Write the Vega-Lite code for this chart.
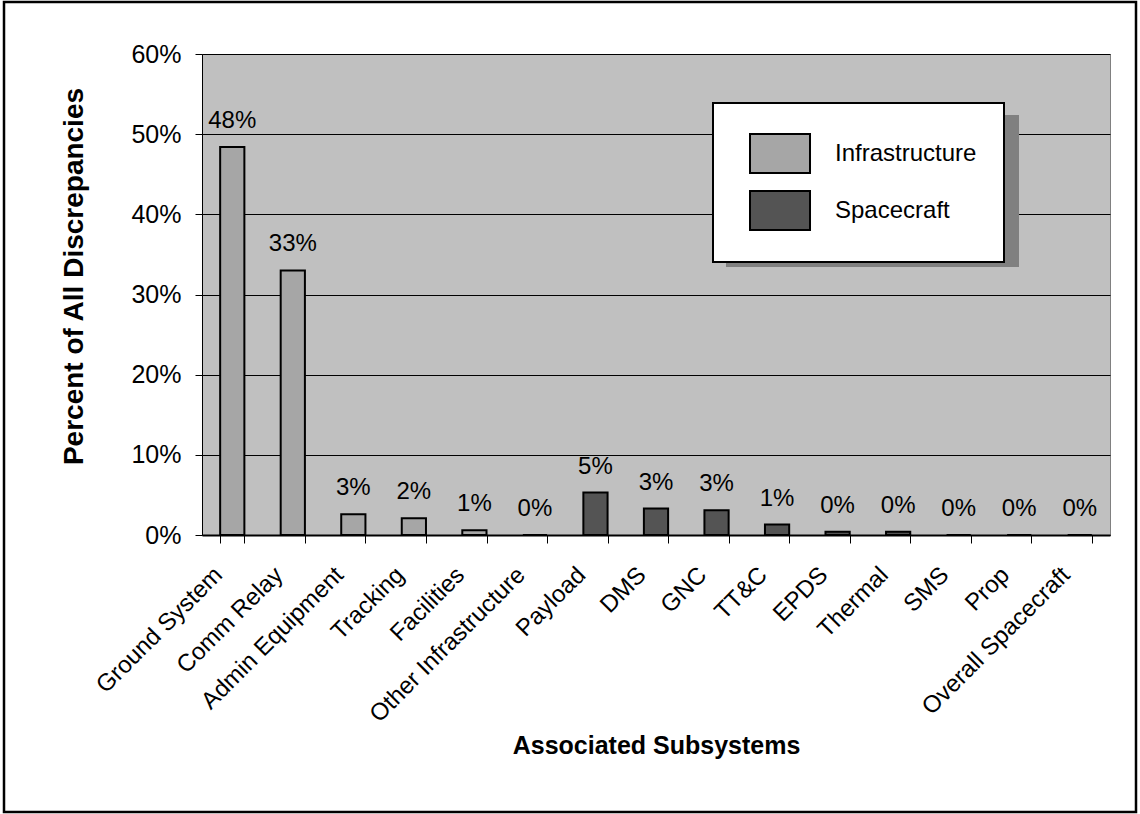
{
  "$schema": "https://vega.github.io/schema/vega-lite/v6.json",
  "width": 908,
  "height": 481,
  "autosize": {"type": "none"},
  "padding": {"left": 202, "top": 54, "right": 30, "bottom": 279},
  "background": "white",
  "config": {
    "font": "Liberation Sans",
    "view": {"fill": "#C0C0C0", "stroke": "#808080", "strokeWidth": 1},
    "legend": {"strokeWidth": 2}
  },
  "data": {
    "values": [
      {"Subsystem": "Ground System", "Group": "Infrastructure", "Percent": 0.484},
      {"Subsystem": "Comm Relay", "Group": "Infrastructure", "Percent": 0.330},
      {"Subsystem": "Admin Equipment", "Group": "Infrastructure", "Percent": 0.026},
      {"Subsystem": "Tracking", "Group": "Infrastructure", "Percent": 0.021},
      {"Subsystem": "Facilities", "Group": "Infrastructure", "Percent": 0.006},
      {"Subsystem": "Other Infrastructure", "Group": "Infrastructure", "Percent": 0.0},
      {"Subsystem": "Payload", "Group": "Spacecraft", "Percent": 0.053},
      {"Subsystem": "DMS", "Group": "Spacecraft", "Percent": 0.033},
      {"Subsystem": "GNC", "Group": "Spacecraft", "Percent": 0.031},
      {"Subsystem": "TT&C", "Group": "Spacecraft", "Percent": 0.013},
      {"Subsystem": "EPDS", "Group": "Spacecraft", "Percent": 0.004},
      {"Subsystem": "Thermal", "Group": "Spacecraft", "Percent": 0.004},
      {"Subsystem": "SMS", "Group": "Spacecraft", "Percent": 0.0},
      {"Subsystem": "Prop", "Group": "Spacecraft", "Percent": 0.0},
      {"Subsystem": "Overall Spacecraft", "Group": "Spacecraft", "Percent": 0.0}
    ]
  },
  "encoding": {
    "x": {
      "field": "Subsystem",
      "type": "nominal",
      "sort": null,
      "scale": {"paddingInner": 0.6, "paddingOuter": 0.3},
      "axis": {
        "title": "Associated Subsystems",
        "titleFont": "Liberation Sans",
        "titleFontSize": 25,
        "titleFontWeight": "bold",
        "titleColor": "black",
        "titlePadding": 7,
        "labelAngle": -45,
        "labelAlign": "right",
        "labelBaseline": "middle",
        "labelFontSize": 24,
        "labelColor": "black",
        "labelPadding": 28,
        "labelOffset": -14,
        "labelOverlap": false,
        "labelLimit": 0,
        "tickBand": "extent",
        "tickColor": "black",
        "tickSize": 8,
        "tickWidth": 1,
        "domainColor": "black",
        "domainWidth": 2,
        "grid": false
      }
    },
    "y": {
      "field": "Percent",
      "type": "quantitative",
      "scale": {"domain": [0, 0.6], "nice": false},
      "axis": {
        "title": "Percent of All Discrepancies",
        "titleFont": "Liberation Sans",
        "titleFontSize": 28,
        "titleFontWeight": "bold",
        "titleColor": "black",
        "titlePadding": 42,
        "titleY": 222,
        "format": ".0%",
        "values": [0, 0.1, 0.2, 0.3, 0.4, 0.5, 0.6],
        "labelFontSize": 25,
        "labelColor": "black",
        "labelPadding": 14,
        "tickColor": "black",
        "tickSize": 7,
        "domainColor": "black",
        "domainWidth": 1,
        "grid": true,
        "gridColor": "black",
        "gridWidth": 1
      }
    }
  },
  "layer": [
    {
      "mark": {"type": "text", "baseline": "alphabetic", "dy": -19, "fontSize": 24, "font": "Liberation Sans"},
      "encoding": {
        "text": {"field": "Percent", "type": "quantitative", "format": ".0%"},
        "color": {
          "field": "Group",
          "type": "nominal",
          "scale": {"domain": ["Infrastructure", "Spacecraft"], "range": ["black", "black"]},
          "legend": {
            "title": null,
            "orient": "none",
            "legendX": 525,
            "legendY": 62,
            "zindex": 0,
            "padding": 27,
            "fillColor": "#808080",
            "strokeColor": "#808080",
            "symbolType": "M-0.6,-0.867H2.067V0.867H-0.6Z",
            "symbolSize": 2025,
            "symbolOpacity": 0,
            "labelExpr": "''",
            "labelOffset": 190,
            "rowPadding": 8,
            "labelFontSize": 24,
            "labelFont": "Liberation Sans",
            "labelColor": "#808080"
          }
        }
      }
    },
    {
      "mark": {"type": "bar", "stroke": "black", "strokeWidth": 2},
      "encoding": {
        "fill": {
          "field": "Group",
          "type": "nominal",
          "scale": {"range": ["#A6A6A6", "#545454"]},
          "legend": {
            "title": null,
            "orient": "none",
            "legendX": 511,
            "legendY": 49,
            "zindex": 1,
            "padding": 27,
            "fillColor": "white",
            "strokeColor": "black",
            "symbolType": "M-0.6,-0.867H2.067V0.867H-0.6Z",
            "symbolSize": 2025,
            "symbolStrokeColor": "black",
            "symbolStrokeWidth": 2,
            "symbolOpacity": 1,
            "labelOffset": 48,
            "rowPadding": 8,
            "labelFontSize": 24,
            "labelFont": "Liberation Sans",
            "labelColor": "black"
          }
        }
      }
    },
    {
      "data": {"values": [{"frame": "outer"}]},
      "mark": {"type": "rect", "fill": null, "stroke": "black", "strokeWidth": 2.5, "clip": false},
      "encoding": {
        "x": {"value": -198},
        "x2": {"value": 934},
        "y": {"value": -52},
        "y2": {"value": 758}
      }
    }
  ]
}
